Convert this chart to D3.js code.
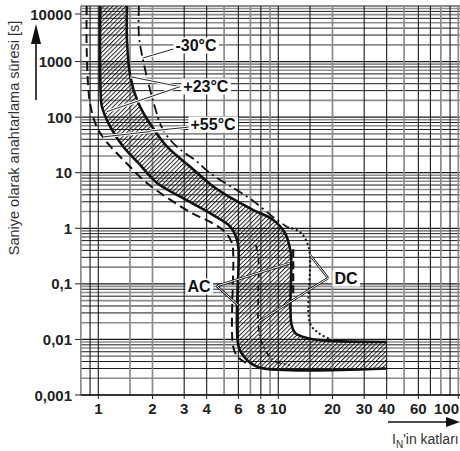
<!DOCTYPE html>
<html><head><meta charset="utf-8">
<script src="https://cdn.jsdelivr.net/npm/d3@7"></script>
<style>body{margin:0;background:#fff}svg{display:block}</style>
</head><body><svg id="c" width="460" height="451"></svg>
<script>
// ---------- data ----------
const yTickValues = [10000, 1000, 100, 10, 1, 0.1, 0.01, 0.001];
const yTickLabels = ["10000", "1000", "100", "10", "1", "0,1", "0,01", "0,001"];
const xTickValues = [1, 2, 3, 4, 6, 8, 10, 20, 30, 40, 60, 100];
const xTickLabels = ["1", "2", "3", "4", "6", "8", "10", "20", "30", "40", "60", "100"];
const xGridValues = [0.8, 0.9, 1, 1.5, 2, 3, 4, 5, 6, 7, 8, 9, 10, 15, 20, 30, 40, 50, 60, 70, 80, 90, 100];
const xGridGray = [0.8, 1.5, 2, 5, 7, 9, 20, 50, 80, 100];
const yGridMantissas = [1, 2, 3, 4, 5, 6, 7, 8, 9];
const yGridGray = [2, 5, 7, 9];

// +23°C band, upper (right) boundary
const band23UpperX = [1.443, 1.443, 1.506, 1.668, 1.99, 2.41, 3.24, 4.39, 5.6, 7.26, 9.38, 10.9, 11.66, 11.8, 11.8, 12.4, 14.4, 18.6, 40];
const band23UpperY = [10000, 2443, 534, 180, 67, 29.4, 12.8, 5.53, 3.37, 2.13, 1.41, 0.82, 0.407, 0.269, 0.0197, 0.0131, 0.0106, 0.0095, 0.009];
// +23°C band, lower (left) boundary
const band23LowerX = [1.026, 1.026, 1.048, 1.166, 1.377, 1.668, 2.12, 2.855, 4.35, 5.41, 5.90, 6.02, 6.02, 6.70, 7.94, 40];
const band23LowerY = [10000, 466, 154, 67, 29.4, 15.0, 6.53, 3.70, 1.73, 1.07, 0.615, 0.407, 0.0074, 0.00427, 0.0031, 0.003];
// +55°C curve
const t55X = [0.862, 0.862, 0.899, 0.98, 1.09, 1.265, 1.50, 1.86, 3.23, 4.18, 5.06, 5.53, 5.62, 5.62, 5.97, 6.62];
const t55Y = [10000, 1615, 180, 67, 38.8, 22.6, 12.8, 6.53, 1.96, 1.30, 0.857, 0.543, 0.330, 0.0073, 0.00483, 0.00377];
// -30°C curve
const t30X = [1.68, 1.68, 1.74, 1.86, 2.06, 2.29, 2.73, 3.45, 4.17, 5.75, 7.14, 9.34, 11.2];
const t30Y = [10000, 3006, 1426, 534, 154, 58.7, 29.4, 16.9, 9.88, 5.09, 3.23, 1.60, 1.05];
// DC upper curve (dotted)
const dcUpperX = [11.2, 13.2, 14.5, 15.0, 15.0, 16.7, 19.3];
const dcUpperY = [1.05, 0.857, 0.543, 0.304, 0.0197, 0.0131, 0.0102];
// DC lower curve (dash-dot)
const dcLowerX = [7.5, 7.74, 7.74, 8.0, 9.34, 11.6];
const dcLowerY = [0.50, 0.304, 0.0197, 0.0098, 0.00427, 0.00347];
// AC marker segment next to upper boundary
const acMarkX = [12.1, 12.1];
const acMarkY = [0.42, 0.06];

// annotations: text, label anchor (x, y) and leader targets
const annLabels = ["-30°C", "+23°C", "+55°C", "AC", "DC"];
const annX = [3.49, 3.96, 4.34, 3.63, 23.8];
const annY = [1986, 363, 75.2, 0.0914, 0.127];
const leaderFromX = [[2.73], [2.84, 2.84], [3.23, 3.23], [4.55, 4.55], [18.9, 18.9]];
const leaderFromY = [[1754], [353, 353], [66.5, 66.5], [0.0915, 0.0915], [0.127, 0.127]];
const leaderToX = [[1.77], [1.506, 1.113], [1.062, 1.94], [11.6, 5.97], [15.0, 7.91]];
const leaderToY = [[1159], [534, 125], [44, 56.3], [0.237, 0.0416], [0.33, 0.0215]];

// ---------- drawing ----------
const svg = d3.select("#c");
const x = d3.scaleLog().domain([1, 100]).range([98.3, 458.3]);
const y = d3.scaleLog().domain([0.001, 10000]).range([395, 6]);
const X0 = x(0.8), X1 = 460, Y0 = y(10000), Y1 = y(0.001);

const defs = svg.append("defs");
defs.append("clipPath").attr("id", "clip").append("rect")
  .attr("x", X0).attr("y", Y0).attr("width", X1 - X0).attr("height", Y1 - Y0);
const pat = defs.append("pattern").attr("id", "hatch").attr("patternUnits", "userSpaceOnUse")
  .attr("width", 3.1).attr("height", 3.1).attr("patternTransform", "rotate(45)");
pat.append("line").attr("x1", 0.5).attr("y1", 0).attr("x2", 0.5).attr("y2", 3.1)
  .attr("stroke", "#111").attr("stroke-width", 0.9);

const grid = svg.append("g");
const yGrid = [];
for (let k = -3; k <= 3; k++) yGridMantissas.forEach(m => yGrid.push({v: m * Math.pow(10, k), m}));
yGrid.push({v: 10000, m: 1});
yGrid.forEach(d => {
  const gray = yGridGray.includes(d.m);
  grid.append("line").attr("x1", X0).attr("x2", X1).attr("y1", y(d.v)).attr("y2", y(d.v))
    .attr("stroke", gray ? "#8c8c8c" : "#1a1a1a").attr("stroke-width", gray ? 1.6 : (d.m === 1 ? 1.2 : 1));
});
xGridValues.forEach(v => {
  const gray = xGridGray.includes(v);
  grid.append("line").attr("y1", Y0).attr("y2", Y1).attr("x1", x(v)).attr("x2", x(v))
    .attr("stroke", gray ? "#8c8c8c" : "#1a1a1a").attr("stroke-width", gray ? 1.7 : 1.1);
});
grid.append("line").attr("x1", X0).attr("x2", X1).attr("y1", Y1).attr("y2", Y1)
  .attr("stroke", "#1a1a1a").attr("stroke-width", 1.3);

const plot = svg.append("g").attr("clip-path", "url(#clip)");
const zip = (a, b) => a.map((v, i) => [v, b[i]]);
const line = d3.line().x(d => x(d[0])).y(d => y(d[1])).curve(d3.curveCatmullRom.alpha(0.5));

const up = zip(band23UpperX, band23UpperY);
const lo = zip(band23LowerX, band23LowerY);
const bandPath = line(up) + line(lo.slice().reverse()).replace(/^M/, "L") + "Z";
plot.append("path").attr("d", bandPath).attr("fill", "url(#hatch)").attr("stroke", "none");

plot.append("path").attr("d", line(zip(t55X, t55Y))).attr("fill", "none")
  .attr("stroke", "#111").attr("stroke-width", 2).attr("stroke-dasharray", "9,5");
plot.append("path").attr("d", line(zip(t30X, t30Y))).attr("fill", "none")
  .attr("stroke", "#111").attr("stroke-width", 1.8).attr("stroke-dasharray", "10,4,2,4");
plot.append("path").attr("d", line(zip(dcUpperX, dcUpperY))).attr("fill", "none")
  .attr("stroke", "#111").attr("stroke-width", 2).attr("stroke-dasharray", "2,2.5");
plot.append("path").attr("d", line(zip(dcLowerX, dcLowerY))).attr("fill", "none")
  .attr("stroke", "#111").attr("stroke-width", 1.7).attr("stroke-dasharray", "6,3,1.5,3");
plot.append("path").attr("d", line(zip(acMarkX, acMarkY))).attr("fill", "none")
  .attr("stroke", "#111").attr("stroke-width", 2.2).attr("stroke-dasharray", "8,4");
plot.append("path").attr("d", line(up)).attr("fill", "none").attr("stroke", "#111").attr("stroke-width", 2.6);
plot.append("path").attr("d", line(lo)).attr("fill", "none").attr("stroke", "#111").attr("stroke-width", 2.6);

const ann = svg.append("g");
annLabels.forEach((t, i) => {
  leaderFromX[i].forEach((fx, j) => {
    const p = [x(fx), y(leaderFromY[i][j]), x(leaderToX[i][j]), y(leaderToY[i][j])];
    const dbl = i >= 3;
    ann.append("line").attr("x1", p[0]).attr("y1", p[1]).attr("x2", p[2]).attr("y2", p[3])
      .attr("stroke", dbl ? "#111" : "#fff").attr("stroke-width", dbl ? 2.4 : 3);
    ann.append("line").attr("x1", p[0]).attr("y1", p[1]).attr("x2", p[2]).attr("y2", p[3])
      .attr("stroke", dbl ? "#fff" : "#111").attr("stroke-width", dbl ? 1 : 0.9);
  });
});
annLabels.forEach((t, i) => {
  const g = ann.append("g");
  const txt = g.append("text").attr("x", x(annX[i])).attr("y", y(annY[i]))
    .attr("text-anchor", "middle").attr("dominant-baseline", "central")
    .attr("font-family", "Liberation Sans, Arial, sans-serif").attr("font-weight", "bold")
    .attr("font-size", 16).attr("fill", "#111").text(t);
  const bb = txt.node().getBBox();
  g.insert("rect", "text").attr("x", bb.x - 2).attr("y", bb.y + 1).attr("width", bb.width + 4)
    .attr("height", bb.height - 1).attr("fill", "#fff");
});

const font = "Liberation Sans, Arial, sans-serif";
yTickValues.forEach((v, i) => {
  const yy = i === 0 ? y(v) + 8 : y(v);
  svg.append("text").attr("x", 72).attr("y", yy).attr("dominant-baseline", "central")
    .attr("text-anchor", "end").attr("font-family", font).attr("font-weight", "bold")
    .attr("font-size", 15).attr("fill", "#222").text(yTickLabels[i]);
  svg.append("line").attr("x1", 75).attr("x2", X0).attr("y1", yy).attr("y2", yy)
    .attr("stroke", "#222").attr("stroke-width", 1);
});
xTickValues.forEach((v, i) => {
  const last = i === xTickValues.length - 1;
  svg.append("text").attr("x", last ? 459 : x(v)).attr("y", 414)
    .attr("text-anchor", last ? "end" : "middle")
    .attr("font-family", font).attr("font-weight", "bold").attr("font-size", 15)
    .attr("fill", "#222").text(xTickLabels[i]);
  svg.append("line").attr("x1", x(v)).attr("x2", x(v)).attr("y1", Y1).attr("y2", Y1 + 4)
    .attr("stroke", "#222").attr("stroke-width", 1);
});

svg.append("text").attr("transform", "translate(19,138) rotate(-90)").attr("text-anchor", "middle")
  .attr("font-family", font).attr("font-size", 14.5).attr("fill", "#333")
  .text("Saniye olarak anahtarlama süresi [s]");
svg.append("line").attr("x1", 36).attr("x2", 36).attr("y1", 100).attr("y2", 40)
  .attr("stroke", "#111").attr("stroke-width", 1.6);
svg.append("path").attr("d", "M36,24L31,44L41,44Z").attr("fill", "#111");

svg.append("line").attr("x1", 388).attr("x2", 450).attr("y1", 422).attr("y2", 422)
  .attr("stroke", "#111").attr("stroke-width", 1.6);
svg.append("path").attr("d", "M460,422L446,417L446,427Z").attr("fill", "#111");
const xt = svg.append("text").attr("x", 392).attr("y", 444).attr("font-family", font)
  .attr("font-size", 14).attr("fill", "#333");
xt.append("tspan").text("I");
xt.append("tspan").attr("font-size", 10).attr("dy", 4).text("N");
xt.append("tspan").attr("dy", -4).text("'in katları");
</script></body></html>
